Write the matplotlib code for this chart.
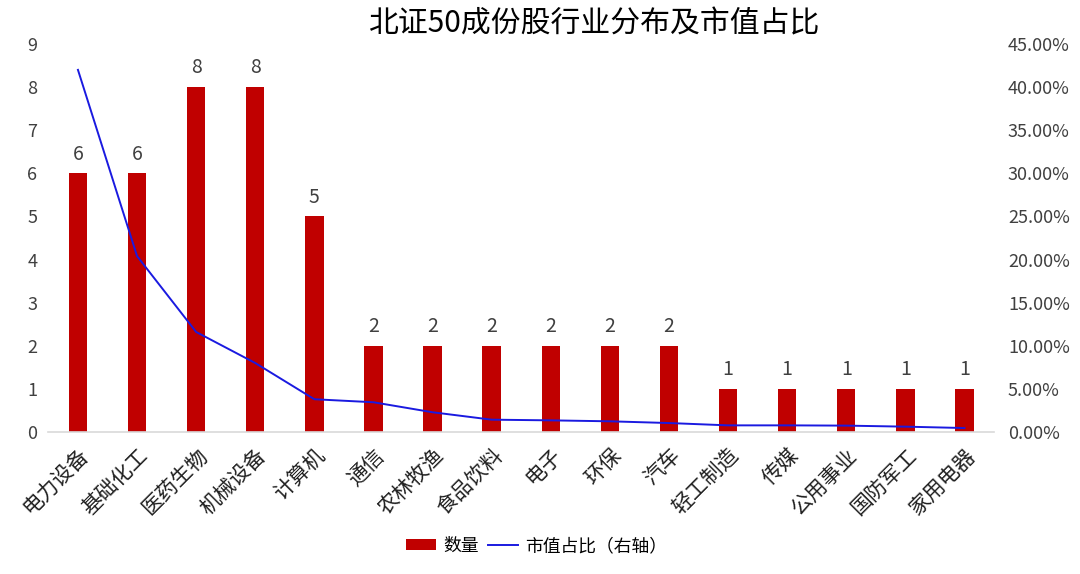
import matplotlib
matplotlib.use("Agg")
import matplotlib.pyplot as plt
from matplotlib.ticker import FuncFormatter
import numpy as np

plt.rcParams['font.family'] = ['Noto Sans CJK SC', 'DejaVu Sans']

categories = ["电力设备", "基础化工", "医药生物", "机械设备", "计算机", "通信", "农林牧渔",
              "食品饮料", "电子", "环保", "汽车", "轻工制造", "传媒", "公用事业", "国防军工", "家用电器"]
counts = [6, 6, 8, 8, 5, 2, 2, 2, 2, 2, 2, 1, 1, 1, 1, 1]
share = [42.0, 20.4, 11.6, 8.0, 3.8, 3.45, 2.29, 1.43, 1.35, 1.24, 1.04, 0.77, 0.77, 0.74, 0.62, 0.46]

title = "北证50成份股行业分布及市值占比"
bar_label = "数量"
line_label = "市值占比（右轴）"

txt = "#404040"
fig = plt.figure(figsize=(10.8, 5.74), dpi=100)
ax = fig.add_axes([48.4 / 1080, 1 - 432 / 574, (994 - 48.4) / 1080, (432 - 44) / 574])
x = np.arange(len(categories))
bars = ax.bar(x, counts, width=0.31, color="#C00000", label=bar_label, zorder=2)
for xi, c in zip(x, counts):
    ax.text(xi, c + 0.2, str(c), ha="center", va="bottom", fontsize=14, color=txt)

ax.set_xlim(-0.5, len(categories) - 0.5)
ax.set_ylim(0, 9)
ax.set_yticks(range(0, 10))
ax.set_xticks(x)
ax.set_xticklabels(categories, rotation=45, ha="right", rotation_mode="anchor", fontsize=15, color="#202020")
for s in ["top", "right", "left"]:
    ax.spines[s].set_visible(False)
ax.spines["bottom"].set_color("#D9D9D9")
ax.spines["bottom"].set_linewidth(1.2)
ax.tick_params(axis="x", length=0, pad=9)
ax.tick_params(axis="y", length=0, pad=8, labelsize=13, labelcolor=txt)

ax2 = ax.twinx()
ln, = ax2.plot(x, share, color="#1A1AE0", lw=1.4, label=line_label, zorder=3)
ax2.set_ylim(0, 45)
ax2.set_yticks(np.arange(0, 46, 5))
ax2.yaxis.set_major_formatter(FuncFormatter(lambda v, p: f"{v:.2f}%"))
for s in ["top", "right", "left", "bottom"]:
    ax2.spines[s].set_visible(False)
ax2.tick_params(axis="y", length=0, pad=10, labelsize=13, labelcolor=txt)

fig.text(0.551, 0.958, title, ha="center", va="center", fontsize=21.5, color="black")

fig.legend(handles=[bars, ln], labels=[bar_label, line_label], loc="center",
           bbox_to_anchor=(0.497, 0.049), ncol=2, frameon=False, fontsize=12.8,
           handlelength=1.7, handleheight=0.6, columnspacing=0.5, handletextpad=0.4)

fig.savefig("out.png", dpi=100)
